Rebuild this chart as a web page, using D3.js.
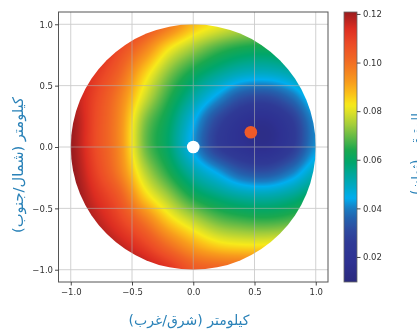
<!DOCTYPE html>
<html><head><meta charset="utf-8">
<script src="https://cdn.jsdelivr.net/npm/d3@7"></script>
<style>
body{margin:0;background:#fff;}
#wrap{position:relative;width:417px;height:335px;overflow:hidden;background:#fff}
canvas,svg{position:absolute;left:0;top:0}
</style></head>
<body><div id="wrap"><canvas id="cv" width="417" height="335"></canvas><svg id="sv" width="417" height="335"></svg></div>
<script>
// ---- data ----
const gridX = [-1.0,-0.8,-0.6,-0.4,-0.2,0.0,0.2,0.4,0.6,0.8,1.0];
const gridY = [1.0,0.8,0.6,0.4,0.2,0.0,-0.2,-0.4,-0.6,-0.8,-1.0];
const rowY100  = [0.125,0.121,0.115,0.108,0.099,0.088,0.082,0.078,0.077,0.079,0.084];
const rowY080  = [0.122,0.117,0.108,0.097,0.083,0.074,0.067,0.063,0.062,0.065,0.070];
const rowY060  = [0.120,0.112,0.102,0.086,0.072,0.062,0.055,0.050,0.049,0.052,0.059];
const rowY040  = [0.119,0.109,0.097,0.079,0.065,0.053,0.042,0.032,0.030,0.037,0.049];
const rowY020  = [0.121,0.108,0.095,0.072,0.060,0.045,0.029,0.019,0.016,0.025,0.042];
const rowY000  = [0.121,0.108,0.095,0.071,0.059,0.043,0.027,0.019,0.016,0.025,0.042];
const rowYm020 = [0.122,0.110,0.097,0.077,0.064,0.052,0.043,0.034,0.032,0.039,0.050];
const rowYm040 = [0.123,0.114,0.104,0.086,0.074,0.063,0.057,0.053,0.052,0.055,0.061];
const rowYm060 = [0.124,0.118,0.110,0.099,0.086,0.077,0.070,0.067,0.066,0.068,0.073];
const rowYm080 = [0.126,0.122,0.117,0.110,0.100,0.091,0.085,0.083,0.083,0.085,0.090];
const rowYm100 = [0.128,0.126,0.123,0.119,0.113,0.105,0.103,0.102,0.102,0.104,0.108];
const residual = [rowY100,rowY080,rowY060,rowY040,rowY020,rowY000,rowYm020,rowYm040,rowYm060,rowYm080,rowYm100];

const xTicks = [-1.0,-0.5,0.0,0.5,1.0];
const yTicks = [-1.0,-0.5,0.0,0.5,1.0];
const cbTicks = [0.02,0.04,0.06,0.08,0.10,0.12];
const cbRange = [0.0097,0.1208];
const cmapValues = [0.0097,0.018,0.026,0.031,0.036,0.040,0.0443,0.049,0.054,0.059,0.064,0.069,0.074,0.079,0.0825,0.087,0.092,0.097,0.102,0.108,0.114,0.1208];
const cmapColors = ["#2b2a7e","#2e3192","#2f3a96","#2e4a9f","#2362ae","#1a7dc2","#00aeef","#00a9c4","#00a79a","#00a66a","#1aa84e","#5db847","#9ecb3c","#d6de2a","#f7ea1a","#fbc219","#f89c1c","#f47f20","#f06424","#ec4a26","#dc2d21","#9a1c1f"];
const markers = [{x:0.0,y:0.0,fill:"#ffffff"},{x:0.47,y:0.12,fill:"#ef5a28"}];
const xLabel = "كيلومتر (شرق/غرب)";
const yLabel = "كيلومتر (شمال/جنوب)";
const cbLabel = "المتبقي (ثوان)";

// ---- scales ----
const x = d3.scaleLinear().domain([-1.1,1.1]).range([58.5,328]);
const y = d3.scaleLinear().domain([-1.1,1.1]).range([282,12]);
const color = d3.scaleLinear().domain(cmapValues).range(cmapColors).interpolate(d3.interpolateRgb).clamp(true);
const cby = d3.scaleLinear().domain(cbRange).range([282,12]);
const ix = d3.scaleLinear().domain([gridX[0],gridX[gridX.length-1]]).range([0,gridX.length-1]);
const iy = d3.scaleLinear().domain([gridY[0],gridY[gridY.length-1]]).range([0,gridY.length-1]);

function cr(p0,p1,p2,p3,t){return 0.5*(2*p1+(-p0+p2)*t+(2*p0-5*p1+4*p2-p3)*t*t+(-p0+3*p1-3*p2+p3)*t*t*t);}
const nx=gridX.length, ny=gridY.length;
function g(r,c){r=Math.max(0,Math.min(ny-1,r));c=Math.max(0,Math.min(nx-1,c));return residual[r][c];}
function sample(dx,dy){
  const fx=ix(dx), fy=iy(dy);
  const c=Math.floor(fx), r=Math.floor(fy), tx=fx-c, ty=fy-r;
  const rows=[];
  for(let k=-1;k<=2;k++) rows.push(cr(g(r+k,c-1),g(r+k,c),g(r+k,c+1),g(r+k,c+2),tx));
  return cr(rows[0],rows[1],rows[2],rows[3],ty);
}

// ---- field on canvas ----
const cv=document.getElementById('cv'); const ctx=cv.getContext('2d');
const off=document.createElement('canvas'); off.width=417; off.height=335;
const octx=off.getContext('2d');
const img=octx.createImageData(417,335);
const x0=Math.floor(x(-1))-2, x1=Math.ceil(x(1))+2, y0=Math.floor(y(1))-2, y1=Math.ceil(y(-1))+2;
for(let py=y0;py<y1;py++){for(let px=x0;px<x1;px++){
  const dx=x.invert(px+0.5), dy=y.invert(py+0.5);
  if(dx*dx+dy*dy>1.06) continue;
  const c=d3.rgb(color(sample(dx,dy)));
  const i=(py*417+px)*4; img.data[i]=c.r; img.data[i+1]=c.g; img.data[i+2]=c.b; img.data[i+3]=255;
}}
octx.putImageData(img,0,0);
ctx.save(); ctx.beginPath();
ctx.ellipse(x(0),y(0),x(1)-x(0),y(0)-y(1),0,0,2*Math.PI); ctx.clip();
ctx.drawImage(off,0,0); ctx.restore();

// ---- svg ----
const svg=d3.select('#sv');
const font="DejaVu Sans, sans-serif";
const gridG=svg.append('g').attr('stroke','#b0b0b0').attr('stroke-width',0.9).attr('opacity',0.65);
gridG.selectAll('.gx').data(xTicks).join('line').attr('x1',d=>x(d)).attr('x2',d=>x(d)).attr('y1',12).attr('y2',282);
gridG.selectAll('.gy').data(yTicks).join('line').attr('y1',d=>y(d)).attr('y2',d=>y(d)).attr('x1',58.5).attr('x2',328);

svg.selectAll('circle.m').data(markers).join('circle').attr('class','m')
  .attr('cx',d=>x(d.x)).attr('cy',d=>y(d.y)).attr('r',6.3).attr('fill',d=>d.fill);

svg.append('rect').attr('x',58.5).attr('y',12).attr('width',328-58.5).attr('height',270)
  .attr('fill','none').attr('stroke','#555').attr('stroke-width',1);

function styleAxis(g){g.select('.domain').remove();
  g.selectAll('.tick line').attr('stroke','#333').attr('stroke-width',0.9);
  g.selectAll('.tick text').attr('fill','#333').style('font-family',font).style('font-size','8.5px');}
svg.append('g').attr('transform','translate(0,282)')
  .call(d3.axisBottom(x).tickValues(xTicks).tickFormat(d3.format('.1f')).tickSize(3.5).tickPadding(3)).call(styleAxis);
svg.append('g').attr('transform','translate(58.5,0)')
  .call(d3.axisLeft(y).tickValues(yTicks).tickFormat(d3.format('.1f')).tickSize(3.5).tickPadding(2)).call(styleAxis);

// colorbar
const defs=svg.append('defs');
const grad=defs.append('linearGradient').attr('id','cb').attr('x1',0).attr('x2',0).attr('y1',1).attr('y2',0);
d3.range(0,101).forEach(i=>{const v=cbRange[0]+(cbRange[1]-cbRange[0])*i/100;
  grad.append('stop').attr('offset',(i)+'%').attr('stop-color',color(v));});
svg.append('rect').attr('x',344).attr('y',12).attr('width',13).attr('height',270)
  .attr('fill','url(#cb)').attr('stroke','#666').attr('stroke-width',0.8);
svg.append('g').attr('transform','translate(357,0)')
  .call(d3.axisRight(cby).tickValues(cbTicks).tickFormat(d3.format('.2f')).tickSize(3.5).tickPadding(2.5)).call(styleAxis);

// labels
const lblColor="#2a82b8";
function fit(t,target){t.style('font-size','14px');const w=t.node().getComputedTextLength();t.style('font-size',(14*target/w).toFixed(2)+'px');}
const tx=svg.append('text').text(xLabel).attr('x',189).attr('y',325).attr('text-anchor','middle')
  .attr('fill',lblColor).style('font-family',font).attr('direction','rtl');
fit(tx,121);
const ty=svg.append('text').text(yLabel).attr('transform','translate(23,165) rotate(-90)').attr('text-anchor','middle')
  .attr('fill',lblColor).style('font-family',font);
fit(ty,136);
const tc=svg.append('text').text(cbLabel).attr('transform','translate(421,154) rotate(-90)').attr('text-anchor','middle')
  .attr('fill',lblColor).style('font-family',font);
fit(tc,82);
</script></body></html>
